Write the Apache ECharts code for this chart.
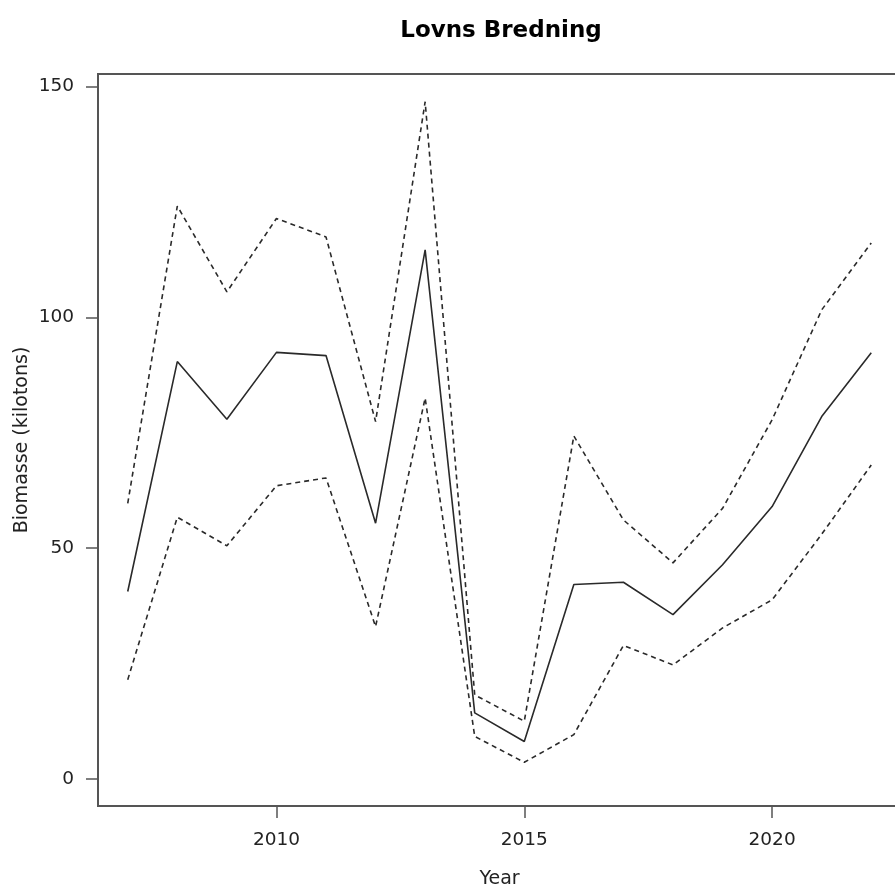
<!DOCTYPE html>
<html>
<head>
<meta charset="utf-8">
<script src="https://cdn.jsdelivr.net/npm/echarts@6/dist/echarts.min.js"></script>
<style>
  html, body { margin: 0; padding: 0; background: #fff; }
  #main { width: 895px; height: 886px; }
</style>
</head>
<body>
<div id="main"></div>
<script>
var years = [2007, 2008, 2009, 2010, 2011, 2012, 2013, 2014, 2015, 2016, 2017, 2018, 2019, 2020, 2021, 2022];
var biomass = [40.6, 90.4, 77.9, 92.4, 91.7, 55.4, 114.6, 14.3, 8.1, 42.1, 42.6, 35.6, 46.4, 59.0, 78.5, 92.3];
var upper = [59.7, 124.1, 105.5, 121.4, 117.4, 77.4, 146.7, 18.2, 12.5, 74.3, 56.1, 46.8, 58.6, 77.8, 101.6, 116.1];
var lower = [21.5, 56.7, 50.5, 63.5, 65.2, 33.0, 82.5, 9.2, 3.6, 9.6, 28.9, 24.7, 32.7, 38.8, 53.0, 68.0];
var xTicks = [2010, 2015, 2020];
var yTicks = [0, 50, 100, 150];

function pairs(vals) {
    var out = [];
    for (var i = 0; i < years.length; i++) {
        out.push([years[i], vals[i]]);
    }
    return out;
}

var lineColor = '#2a2a2a';
var axisColor = '#555';
var font = 'DejaVu Sans';

var myChart = echarts.init(document.getElementById('main'));

var option = {
    backgroundColor: '#fff',
    animation: false,
    title: {
        text: 'Lovns Bredning',
        left: 496,
        top: 15,
        textAlign: 'center',
        textStyle: { fontFamily: font, fontWeight: 'bold', fontSize: 23, color: '#000' }
    },
    grid: {
        left: 98,
        top: 74,
        right: -6,
        bottom: 80,
        show: true,
        borderColor: axisColor,
        borderWidth: 2,
        containLabel: false,
        outerBoundsMode: 'none'
    },
    xAxis: {
        type: 'value',
        min: 2006.4,
        max: 2022.6,
        name: 'Year',
        nameLocation: 'middle',
        nameGap: 64,
        nameMoveOverlap: false,
        nameTextStyle: { fontFamily: font, fontSize: 19, color: '#222' },
        axisLine: { show: true, onZero: false, lineStyle: { color: axisColor, width: 2 } },
        axisTick: { show: true, length: 12, customValues: xTicks, lineStyle: { color: axisColor, width: 1.5 } },
        axisLabel: {
            customValues: xTicks, margin: 25, fontFamily: font, fontSize: 18.5, color: '#222',
            formatter: function (v) { return String(v); }
        },
        splitLine: { show: false }
    },
    yAxis: {
        type: 'value',
        min: -5.87,
        max: 152.7,
        name: 'Biomasse (kilotons)',
        nameLocation: 'middle',
        nameGap: 66,
        nameMoveOverlap: false,
        nameTextStyle: { fontFamily: font, fontSize: 19, color: '#222' },
        axisLine: { show: true, onZero: false, lineStyle: { color: axisColor, width: 2 } },
        axisTick: { show: true, length: 12, customValues: yTicks, lineStyle: { color: axisColor, width: 1.5 } },
        axisLabel: {
            customValues: yTicks, margin: 24, fontFamily: font, fontSize: 18.5, color: '#222',
            formatter: function (v) { return String(v); }
        },
        splitLine: { show: false }
    },
    series: [
        {
            name: 'Biomasse',
            type: 'line',
            data: pairs(biomass),
            showSymbol: false,
            lineStyle: { color: lineColor, width: 1.6 }
        },
        {
            name: 'Upper',
            type: 'line',
            data: pairs(upper),
            showSymbol: false,
            lineStyle: { color: lineColor, width: 1.6, type: [5, 4] }
        },
        {
            name: 'Lower',
            type: 'line',
            data: pairs(lower),
            showSymbol: false,
            lineStyle: { color: lineColor, width: 1.6, type: [5, 4] }
        }
    ]
};
myChart.setOption(option);
</script>
</body>
</html>
